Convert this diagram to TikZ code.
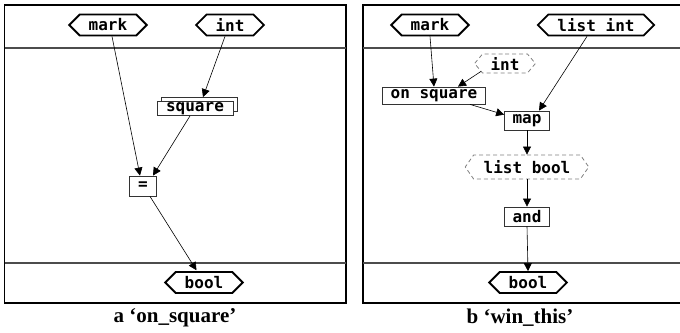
\documentclass[tikz,border=0pt]{standalone}
\usepackage{fontspec}
\setmainfont{Liberation Serif}
\newfontfamily\codefont{DejaVu Sans Mono}
\usetikzlibrary{shapes.symbols,shadows,arrows.meta}
\begin{document}
\begin{tikzpicture}[x=1pt,y=-1pt,
 code/.style={font=\codefont\bfseries\fontsize{16}{16}\selectfont},
 typebox/.style={code, draw, line width=1.8pt, signal, signal to=west and east, signal pointer angle=90, inner xsep=9pt, inner ysep=2pt, minimum height=21pt, fill=white},
 ghost/.style={code, draw=gray, dash pattern=on 4pt off 3pt, line width=0.8pt, signal, signal to=west and east, signal pointer angle=100, inner xsep=8pt, inner ysep=2pt, minimum height=19pt},
 fn/.style={code, draw=black!80, line width=0.8pt, inner xsep=8pt, inner ysep=0.5pt, minimum height=17pt, fill=white},
 conn/.style={line width=0.6pt, -{Triangle[length=8pt,width=8pt]}},
 framel/.style={line width=1.2pt},
 sepl/.style={line width=1.6pt, gray!60!black},
 captext/.style={font=\bfseries\fontsize{21}{21}\selectfont}
]
\useasboundingbox (0,0) rectangle (680,332);
% panel frames
\draw[framel] (4.5,5) rectangle (346,303);
\draw[framel] (680,5) -- (363,5) -- (363,303) -- (680,303);
\draw[sepl] (4.5,48) -- (346,48);
\draw[sepl] (4.5,263) -- (346,263);
\draw[sepl] (363,48) -- (680,48);
\draw[sepl] (363,263) -- (680,263);

% panel a
\node[typebox] (mk) at (108,25) {mark};
\node[typebox] (in) at (230,25) {int};
\node[fn, minimum height=14pt, inner ysep=0pt, inner xsep=9pt, copy shadow={shadow xshift=4pt, shadow yshift=4pt, fill=white, draw=black!80}] (sq) at (195,108.5) {square};
\node[fn, minimum height=20pt, minimum width=27pt, inner xsep=3pt] (eq) at (143,186) {=};
\node[typebox] (bo) at (204,282.5) {bool};
\draw[conn] ([xshift=4pt]mk.south) -- ([xshift=-3pt]eq.north);
\draw[conn] ([xshift=-5pt]in.south) -- ([xshift=8pt,yshift=4pt]sq.north);
\draw[conn] ([xshift=-5pt]sq.south) -- ([xshift=10pt]eq.north);
\draw[conn, shorten >=1pt] ([xshift=7pt]eq.south) -- ([xshift=-7pt]bo.north);

% panel b
\node[typebox] (mk2) at (430,25) {mark};
\node[typebox] (li) at (596,25) {list int};
\node[ghost] (it) at (505,63.5) {int};
\node[fn] (os) at (434,95.5) {on square};
\node[fn, minimum height=19pt] (mp) at (527,120.5) {map};
\node[ghost, minimum height=24pt, inner xsep=10pt, signal pointer angle=110] (lb) at (527,167) {list bool};
\node[fn, minimum height=19pt] (an) at (527,216.5) {and};
\node[typebox] (bo2) at (528,282.5) {bool};
\draw[conn] (mk2.south) -- (os.north);
\draw[conn] ([xshift=-24pt,yshift=2pt]it.south) -- ([xshift=24pt]os.north);
\draw[conn] ([xshift=-9pt]li.south) -- ([xshift=12pt]mp.north);
\draw[conn] ([xshift=36pt]os.south) -- ([yshift=-4pt]mp.north west);
\draw[conn] (mp.south) -- (lb.north);
\draw[conn] (lb.south) -- (an.north);
\draw[conn] (an.south) -- (bo2.north);

% captions
\node[captext] (ca) at (175,318) {a ‘on\_square’};
\node[captext] (cb) at (520,318) {b ‘win\_this’};
\end{tikzpicture}
\end{document}
